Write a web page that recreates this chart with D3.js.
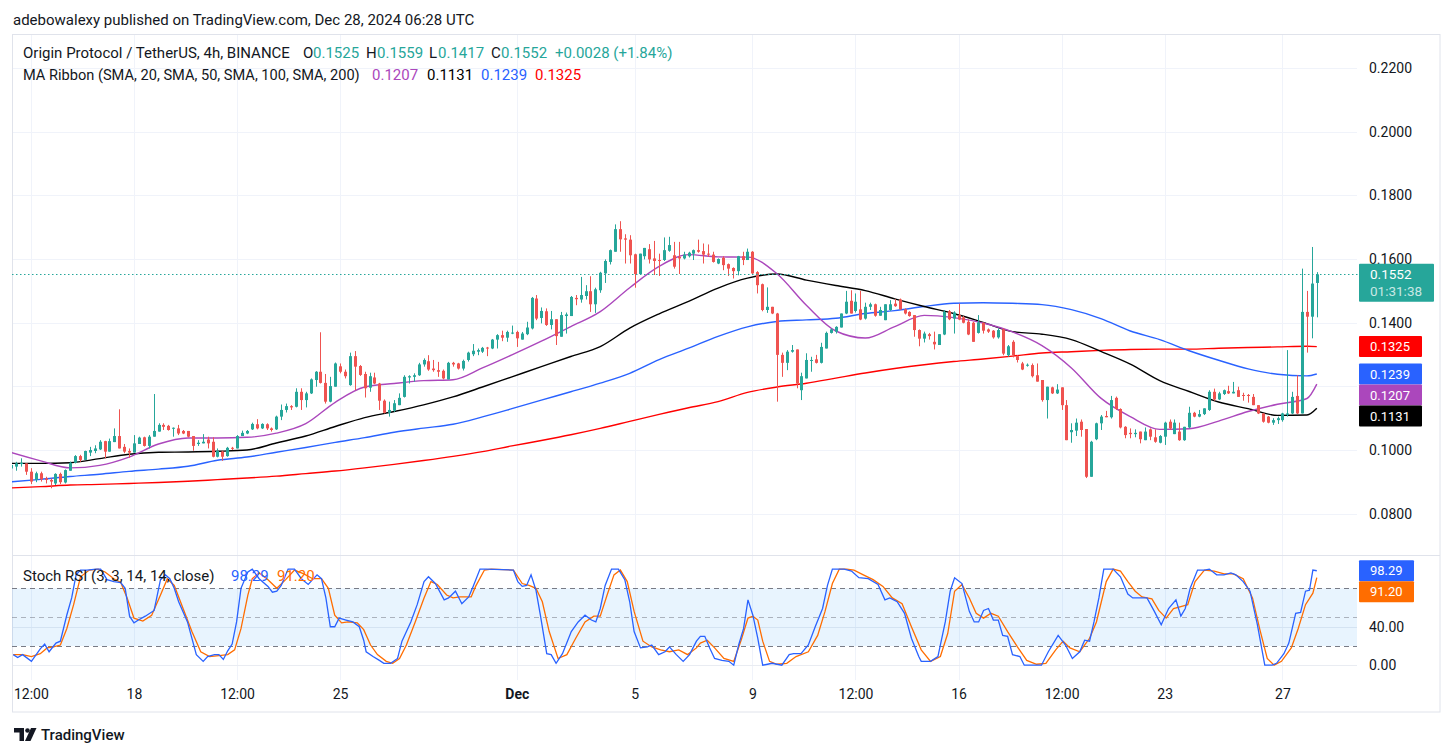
<!DOCTYPE html>
<html><head><meta charset="utf-8">
<script src="https://cdn.jsdelivr.net/npm/d3@7/dist/d3.min.js"></script>
<style>
html,body{margin:0;padding:0;background:#fff;}
svg{display:block;font-family:Roboto,"Liberation Sans",Arial,sans-serif;}
</style></head><body>
<svg id="chart" width="1453" height="756"></svg>
<script>
// ---------------- DATA ----------------
// 4h candles, first candle opens 2024-11-13 20:00 UTC; rows are [open, high, low, close]
const ohlc = [
[.0942,.0958,.0937,.0953],[.0948,.0963,.0935,.0958],[.0956,.0974,.0948,.0960],[.0958,.0958,.0922,.0932],[.0932,.0943,.0893,.0901],
[.0906,.0932,.0899,.0927],[.0927,.0932,.0901,.0908],[.0911,.0916,.0895,.0906],[.0906,.0911,.0880,.0901],[.0895,.0927,.0890,.0925],
[.0925,.0929,.0893,.0899],[.0898,.0939,.0895,.0937],[.0935,.0964,.0935,.0960],[.0960,.0984,.0958,.0981],[.0981,.0985,.0963,.0969],
[.0969,.0998,.0969,.0997],[.0992,.1010,.0981,.1000],[.0997,.1015,.0990,.1005],[.1002,.1031,.1000,.1026],[.1028,.1029,.0974,.0995],
[.0995,.1036,.0995,.1028],[.1025,.1068,.1025,.1044],[.1044,.1128,.1005,.1005],[.1010,.1019,.0990,.0995],[.0997,.1005,.0976,.0992],
[.0992,.1047,.0992,.1021],[.1019,.1042,.1019,.1039],[.1040,.1042,.1011,.1013],[.1013,.1047,.1005,.1042],[.1042,.1176,.1042,.1060],
[.1058,.1084,.1058,.1079],[.1079,.1084,.1063,.1073],[.1076,.1079,.1061,.1063],[.1068,.1071,.1042,.1070],[.1068,.1079,.1047,.1052],
[.1060,.1063,.1050,.1052],[.1060,.1060,.1040,.1042],[.1044,.1044,.0998,.1013],[.1019,.1031,.1013,.1023],[.1021,.1050,.1021,.1026],
[.1033,.1042,.1005,.1021],[.1026,.1040,.0977,.0979],[.0979,.1005,.0977,.0997],[.0995,.0998,.0966,.0979],[.0981,.1010,.0979,.1007],
[.1007,.1010,.1000,.1005],[.1005,.1047,.1005,.1044],[.1044,.1061,.1044,.1054],[.1052,.1063,.1050,.1060],[.1065,.1086,.1063,.1082],
[.1081,.1097,.1065,.1068],[.1068,.1084,.1066,.1082],[.1081,.1084,.1063,.1068],[.1068,.1071,.1058,.1063],[.1065,.1108,.1063,.1105],
[.1105,.1143,.1094,.1126],[.1126,.1146,.1118,.1138],[.1138,.1141,.1126,.1134],[.1136,.1194,.1134,.1183],[.1183,.1194,.1126,.1157],
[.1157,.1183,.1134,.1178],[.1178,.1225,.1176,.1222],[.1220,.1248,.1199,.1246],[.1246,.1370,.1209,.1211],[.1211,.1239,.1146,.1152],
[.1152,.1230,.1150,.1201],[.1199,.1275,.1199,.1272],[.1263,.1272,.1241,.1246],[.1246,.1253,.1225,.1232],[.1204,.1306,.1202,.1295],
[.1295,.1311,.1188,.1262],[.1264,.1267,.1233,.1236],[.1239,.1246,.1165,.1194],[.1196,.1243,.1183,.1232],[.1228,.1243,.1207,.1209],
[.1209,.1211,.1126,.1155],[.1155,.1159,.1115,.1117],[.1117,.1152,.1105,.1126],[.1124,.1157,.1120,.1147],[.1141,.1178,.1141,.1164],
[.1167,.1235,.1165,.1230],[.1228,.1235,.1209,.1232],[.1230,.1241,.1215,.1235],[.1235,.1274,.1233,.1269],[.1269,.1288,.1262,.1283],
[.1279,.1298,.1249,.1253],[.1256,.1283,.1246,.1251],[.1251,.1277,.1230,.1246],[.1249,.1253,.1222,.1225],[.1222,.1277,.1222,.1274],
[.1274,.1277,.1262,.1269],[.1272,.1274,.1253,.1256],[.1256,.1284,.1250,.1280],[.1283,.1309,.1278,.1306],[.1301,.1333,.1295,.1312],
[.1309,.1319,.1298,.1314],[.1309,.1324,.1305,.1321],[.1322,.1324,.1295,.1319],[.1319,.1349,.1317,.1347],[.1347,.1364,.1319,.1361],
[.1361,.1375,.1342,.1353],[.1353,.1375,.1340,.1371],[.1366,.1391,.1364,.1369],[.1371,.1375,.1324,.1351],[.1347,.1371,.1347,.1366],
[.1364,.1403,.1361,.1385],[.1382,.1481,.1379,.1478],[.1476,.1487,.1408,.1413],[.1415,.1448,.1398,.1437],[.1436,.1445,.1390,.1393],
[.1393,.1437,.1379,.1411],[.1411,.1411,.1330,.1358],[.1356,.1434,.1356,.1424],[.1421,.1432,.1366,.1426],[.1421,.1484,.1421,.1481],
[.1478,.1487,.1455,.1474],[.1473,.1544,.1463,.1487],[.1484,.1518,.1473,.1499],[.1499,.1546,.1434,.1458],[.1458,.1510,.1431,.1505],
[.1502,.1560,.1494,.1557],[.1555,.1599,.1525,.1594],[.1591,.1630,.1583,.1628],[.1623,.1709,.1623,.1694],[.1694,.1719,.1623,.1662],
[.1665,.1678,.1586,.1661],[.1661,.1675,.1586,.1612],[.1615,.1617,.1510,.1553],[.1553,.1617,.1553,.1617],[.1609,.1635,.1599,.1635],
[.1631,.1647,.1586,.1599],[.1602,.1657,.1550,.1594],[.1597,.1617,.1547,.1594],[.1597,.1668,.1594,.1628],[.1626,.1670,.1623,.1644],
[.1612,.1654,.1570,.1576],[.1607,.1654,.1553,.1602],[.1602,.1623,.1599,.1614],[.1609,.1623,.1605,.1620],[.1617,.1630,.1597,.1628],
[.1628,.1661,.1620,.1623],[.1625,.1649,.1586,.1614],[.1617,.1646,.1607,.1614],[.1614,.1623,.1589,.1591],[.1586,.1602,.1584,.1600],
[.1604,.1609,.1565,.1581],[.1584,.1586,.1547,.1570],[.1572,.1574,.1539,.1562],[.1562,.1610,.1549,.1609],[.1609,.1623,.1581,.1597],
[.1597,.1633,.1597,.1623],[.1623,.1625,.1553,.1555],[.1559,.1562,.1492,.1518],[.1521,.1523,.1436,.1440],[.1440,.1511,.1431,.1450],
[.1450,.1450,.1427,.1429],[.1429,.1431,.1152,.1299],[.1299,.1306,.1230,.1274],[.1274,.1314,.1251,.1309],[.1309,.1330,.1306,.1314],
[.1316,.1316,.1194,.1209],[.1188,.1243,.1157,.1232],[.1225,.1304,.1225,.1283],[.1280,.1293,.1246,.1283],[.1285,.1299,.1272,.1274],
[.1274,.1337,.1272,.1324],[.1319,.1372,.1319,.1368],[.1368,.1382,.1366,.1379],[.1372,.1389,.1366,.1387],[.1385,.1429,.1385,.1429],
[.1429,.1500,.1427,.1466],[.1469,.1502,.1429,.1429],[.1437,.1492,.1432,.1466],[.1442,.1500,.1408,.1410],[.1413,.1463,.1410,.1450],
[.1450,.1463,.1440,.1458],[.1458,.1460,.1419,.1422],[.1422,.1450,.1422,.1440],[.1408,.1458,.1408,.1458],[.1440,.1471,.1437,.1458],
[.1460,.1474,.1450,.1452],[.1473,.1476,.1440,.1442],[.1442,.1445,.1426,.1429],[.1434,.1436,.1419,.1421],[.1424,.1424,.1356,.1377],
[.1377,.1379,.1326,.1350],[.1350,.1372,.1338,.1366],[.1364,.1368,.1347,.1358],[.1340,.1372,.1316,.1332],[.1330,.1364,.1330,.1364],
[.1363,.1440,.1361,.1434],[.1436,.1440,.1408,.1411],[.1413,.1436,.1366,.1432],[.1424,.1460,.1408,.1410],[.1417,.1421,.1398,.1400],
[.1403,.1410,.1361,.1363],[.1400,.1403,.1340,.1340],[.1368,.1424,.1366,.1401],[.1400,.1400,.1366,.1375],[.1379,.1382,.1368,.1372],
[.1375,.1377,.1350,.1354],[.1354,.1382,.1350,.1377],[.1379,.1382,.1298,.1303],[.1298,.1330,.1293,.1326],[.1340,.1345,.1291,.1298],
[.1295,.1298,.1275,.1283],[.1272,.1277,.1251,.1253],[.1266,.1272,.1262,.1268],[.1267,.1272,.1228,.1232],[.1235,.1272,.1215,.1215],
[.1220,.1220,.1152,.1157],[.1157,.1199,.1099,.1199],[.1197,.1199,.1176,.1178],[.1178,.1207,.1176,.1190],[.1197,.1197,.1126,.1141],
[.1141,.1157,.1031,.1031],[.1056,.1084,.1023,.1063],[.1061,.1099,.1044,.1086],[.1089,.1096,.1042,.1063],[.1066,.1066,.0912,.0916],
[.0916,.1029,.0916,.1026],[.1034,.1086,.1031,.1084],[.1084,.1110,.1063,.1105],[.1107,.1123,.1103,.1103],[.1103,.1170,.1099,.1157],
[.1164,.1168,.1126,.1129],[.1129,.1131,.1068,.1071],[.1073,.1075,.1037,.1047],[.1054,.1068,.1037,.1050],[.1050,.1065,.1040,.1054],
[.1058,.1058,.1021,.1034],[.1031,.1071,.1031,.1058],[.1065,.1068,.1031,.1042],[.1040,.1065,.1023,.1026],[.1023,.1047,.1021,.1044],
[.1042,.1089,.1016,.1086],[.1089,.1096,.1063,.1068],[.1050,.1096,.1050,.1086],[.1058,.1086,.1029,.1031],[.1031,.1073,.1029,.1073],
[.1071,.1136,.1068,.1117],[.1117,.1120,.1103,.1105],[.1105,.1126,.1103,.1113],[.1113,.1131,.1110,.1131],[.1126,.1188,.1123,.1183],
[.1183,.1193,.1155,.1159],[.1159,.1183,.1157,.1178],[.1176,.1190,.1173,.1188],[.1185,.1202,.1176,.1178],[.1178,.1214,.1178,.1183],
[.1188,.1199,.1167,.1167],[.1173,.1180,.1155,.1170],[.1173,.1176,.1149,.1170],[.1167,.1176,.1141,.1141],[.1141,.1141,.1113,.1115],
[.1115,.1115,.1086,.1089],[.1105,.1107,.1084,.1086],[.1086,.1100,.1079,.1094],[.1094,.1105,.1082,.1100],[.1094,.1117,.1089,.1115],
[.1110,.1314,.1105,.1115],[.1115,.1183,.1113,.1167],[.1170,.1235,.1113,.1115],[.1115,.1570,.1115,.1434],[.1434,.1500,.1306,.1419],
[.1419,.1638,.1351,.1523],[.1525,.1559,.1417,.1552]
];

// MA ribbon values read at these candle indices
const maIdx = [0,6,12,18,24,30,36,42,48,54,60,66,72,78,84,90,96,102,108,114,120,126,132,138,144,150,156,162,168,174,180,186,192,198,204,210,216,222,228,234,240,246,252,258,264,266];
const sma20 = [.0992,.0966,.0944,.0952,.0978,.1019,.1038,.1038,.1040,.1053,.1083,.1150,.1198,.1209,.1218,.1221,.1258,.1299,.1342,.1388,.1435,.1510,.1577,.1614,.1607,.1606,.1554,.1455,.1374,.1352,.1388,.1423,.1416,.1399,.1371,.1328,.1258,.1163,.1105,.1065,.1067,.1091,.1121,.1144,.1162,.1207];
const sma50 = [.0958,.0958,.0960,.0973,.0987,.0993,.0994,.0996,.1000,.1022,.1044,.1074,.1102,.1121,.1142,.1167,.1198,.1230,.1262,.1294,.1325,.1383,.1428,.1467,.1509,.1540,.1553,.1534,.1517,.1501,.1475,.1451,.1429,.1401,.1372,.1364,.1347,.1310,.1270,.1218,.1184,.1151,.1130,.1109,.1110,.1131];
const sma100 = [.0900,.0908,.0917,.0924,.0933,.0940,.0949,.0968,.0978,.0993,.1008,.1024,.1039,.1056,.1069,.1081,.1104,.1130,.1157,.1183,.1210,.1241,.1284,.1320,.1357,.1387,.1404,.1409,.1414,.1429,.1438,.1451,.1461,.1463,.1461,.1457,.1441,.1413,.1374,.1347,.1312,.1282,.1255,.1238,.1233,.1239];
const sma200 = [.0881,.0885,.0890,.0892,.0895,.0898,.0902,.0907,.0912,.0918,.0926,.0934,.0944,.0955,.0967,.0980,.0995,.1013,.1030,.1048,.1068,.1090,.1112,.1133,.1152,.1181,.1198,.1210,.1226,.1242,.1256,.1268,.1278,.1286,.1295,.1305,.1309,.1313,.1316,.1317,.1317,.1320,.1322,.1324,.1326,.1325];

// Stoch RSI: [candle index, value]
const stochK = [[0.4,11],[1.3,8],[2.3,11],[4.1,4],[5.9,17],[6.8,22],[7.7,14],[9.1,23],[10,25],[11.3,52],[12.3,70],[13.2,94],[14.1,99],[15.4,99],[17.3,100],[18.2,100],[19.5,89],[20.9,87],[22.3,86],[23.2,80],[24.1,51],[25,44],[25.9,47],[27.3,51],[29.1,57],[30.4,89],[31.4,94],[32.3,90],[33.2,80],[34.1,66],[35.9,45],[37.7,11],[39.1,4],[40,9],[41.4,11],[42.3,11],[43.2,6],[44.1,15],[45,22],[45.9,45],[46.8,80],[48.2,97],[49.1,100],[50.5,90],[52.3,82],[53.2,76],[54.1,77],[55,83],[56.4,100],[57.7,100],[59.1,90],[60.5,84],[61.4,89],[62.3,94],[63.2,90],[64.1,70],[65,40],[65.9,40],[66.8,49],[68.2,47],[69.6,45],[70.9,40],[71.8,26],[72.3,14],[73.7,9],[75,5],[75.9,2],[77.3,2],[78.7,7],[79.6,25],[81.4,45],[82.7,63],[84.1,87],[85,92],[86.4,85],[88.2,68],[89.1,70],[90.5,77],[91.8,64],[93.2,71],[94.1,82],[95.5,100],[96.8,100],[102.3,99],[103.2,87],[104.1,82],[105,83],[105.9,94],[106.9,78],[107.8,52],[109.1,12],[110,11],[111,2],[112.3,12],[114.1,35],[115.5,45],[116.9,52],[118.2,47],[119.1,45],[120,59],[121,83],[122.3,100],[123.7,100],[125,89],[126,66],[126.9,35],[128.2,18],[129.6,19],[130.5,21],[131.9,11],[133.2,14],[134.1,19],[135.5,11],[136.9,4],[138.2,11],[139.6,25],[140.4,30],[141.3,30],[142.3,18],[143.3,7],[144.8,5],[146.2,4],[147.2,0],[148.2,21],[149.2,38],[150.1,68],[151.1,52],[152.1,28],[153.1,0],[154.1,1],[155,2],[157,0],[158.5,11],[159.4,12],[160.9,12],[162.4,21],[163.8,40],[165.3,59],[166.3,83],[167.3,100],[169.7,100],[171.2,98],[172.7,91],[174.6,90],[176.6,84],[178,68],[179,70],[180.5,66],[182,54],[183.4,28],[184.9,9],[185.4,4],[187.3,4],[188.8,9],[190.3,45],[191.3,77],[192.2,91],[193.7,85],[195.2,56],[196.2,45],[197.1,45],[198.1,57],[199.1,59],[200.1,47],[201.1,47],[202,31],[203,30],[204,11],[205.5,9],[206.4,0],[207.9,0],[209.9,0],[211.3,14],[213.3,31],[214.8,21],[216.2,7],[217.7,14],[218.7,26],[219.7,25],[220.6,45],[221.6,70],[222.6,100],[224.5,100],[226,92],[227.5,74],[228.5,70],[229.9,70],[231.4,70],[232.9,56],[234.3,42],[235.8,59],[237.3,68],[238.3,51],[239.2,59],[240.2,80],[241.7,99],[243.1,99],[244.1,100],[245.6,94],[247.1,94],[248.5,96],[249.5,94],[251,87],[252.4,77],[253.9,42],[255.4,0],[256.9,0],[257.8,2],[259.3,12],[260.3,23],[261.7,54],[262.7,55],[263.7,77],[264.5,78],[265.2,99],[266,98.29]];
const stochD = [[0.4,11],[2.3,11],[4.1,9],[5.9,12],[7.3,18],[8.6,19],[10,21],[11.3,38],[12.7,63],[14.1,92],[15.9,99],[17.7,100],[19.1,97],[20.9,90],[22.3,86],[23.6,70],[25,49],[26.8,46],[28.6,52],[30.4,73],[31.8,90],[33.2,83],[35,59],[36.8,35],[38.6,14],[40.4,9],[42.3,10],[44.1,11],[45.5,16],[46.8,38],[48.2,73],[49.1,90],[50.5,96],[52.3,89],[54.1,80],[55.9,89],[57.7,99],[59.6,95],[61.4,90],[63.2,90],[64.6,80],[65.9,52],[67.3,44],[68.6,45],[70.5,44],[71.8,37],[73.2,21],[74.6,11],[76.4,4],[77.7,2],[79.1,7],[80.5,21],[82.3,45],[84.1,70],[85.5,87],[86.8,84],[88.7,73],[90,70],[91.4,71],[93.7,71],[94.6,82],[96.4,99],[97.8,100],[102.3,99],[104.1,85],[105.5,83],[106.9,80],[108.2,66],[109.6,35],[111.4,7],[113.2,11],[115,28],[116.9,45],[118.7,51],[120,51],[121.4,73],[122.8,94],[124.1,99],[125.5,87],[126.9,56],[128.7,25],[130.5,19],[132.3,16],[134.1,14],[136,16],[137.8,11],[139.6,18],[140.4,23],[141.8,26],[143.3,18],[145.2,7],[147.2,4],[148.7,26],[150.1,49],[151.1,51],[152.1,47],[153.1,25],[154.5,4],[156,1],[158,2],[159.9,9],[162.4,14],[164.3,31],[165.8,56],[167.3,85],[168.7,100],[170.2,100],[171.7,99],[173.6,94],[175.6,89],[177.6,82],[179.5,70],[181.5,64],[183.4,40],[185.4,16],[187.3,4],[189.3,9],[190.8,33],[192.2,77],[193.7,84],[195.2,70],[196.6,54],[198.1,49],[199.6,54],[201.1,51],[203,35],[205,19],[206.9,5],[208.9,1],[210.8,2],[212.8,16],[214.3,25],[215.7,18],[217.7,14],[219.7,28],[221.1,45],[223.1,87],[224.5,100],[226,98],[227.5,87],[229,77],[230.4,71],[232.4,69],[233.8,57],[235.3,49],[236.8,59],[238.3,61],[239.7,63],[241.2,87],[243.1,99],[245.1,98],[247.1,95],[249,95],[251,90],[252.9,70],[254.4,37],[255.9,7],[257.3,0],[258.8,4],[260.8,18],[262.2,38],[263.7,63],[265.2,75],[266,91.2]];

const priceTicks = [0.08,0.10,0.12,0.14,0.16,0.18,0.20,0.22];
const priceLabelTicks = [0.08,0.10,0.14,0.16,0.18,0.20,0.22]; // 0.1200 label is hidden behind the MA boxes
const stochTicks = [0,40];
const timeTicks = ["2024-11-14T12:00Z","2024-11-18T00:00Z","2024-11-21T12:00Z","2024-11-25T00:00Z","2024-12-01T00:00Z","2024-12-05T00:00Z","2024-12-09T00:00Z","2024-12-12T12:00Z","2024-12-16T00:00Z","2024-12-19T12:00Z","2024-12-23T00:00Z","2024-12-27T00:00Z"];
const timeLabels = ["12:00","18","12:00","25","Dec","5","9","12:00","16","12:00","23","27"];
const lastValues = {o:0.1525,h:0.1559,l:0.1417,c:0.1552,chg:"+0.0028 (+1.84%)"};
const maLast = [0.1207,0.1131,0.1239,0.1325];
const stochLast = [98.29,91.20];

// ---------------- DRAW ----------------
const W = 1453, H = 756;
const FONT = 'Roboto,"Liberation Sans",Arial,sans-serif';
const T0 = Date.UTC(2024,10,13,20,0), STEP = 4*3600*1000;
const tOf = i => new Date(T0 + i*STEP);
const GREEN = "#26a69a", RED = "#ef5350";
const C20 = "#ab47bc", C50 = "#000000", C100 = "#2962ff", C200 = "#ff0000";
const CK = "#2962ff", CD = "#ff6d00";
const GRID = "#f0f3fa", TXT = "#131722";

const x = d3.scaleUtc().domain([tOf(0), tOf(266)]).range([11.3, 1316.8]);
const y = d3.scaleLinear().domain([0.08, 0.22]).range([513.7, 68.1]);
const ys = d3.scaleLinear().domain([0, 100]).range([665.2, 569.1]);

const svg = d3.select("#chart");
svg.append("rect").attr("width", W).attr("height", H).attr("fill", "#fff");

const defs = svg.append("defs");
defs.append("clipPath").attr("id","clipMain").append("rect").attr("x",12).attr("y",35).attr("width",1345).attr("height",519);
defs.append("clipPath").attr("id","clipStoch").append("rect").attr("x",12).attr("y",556).attr("width",1345).attr("height",124);

// header
svg.append("text").attr("x",13).attr("y",25).attr("font-size",15).attr("fill",TXT)
  .text("adebowalexy published on TradingView.com, Dec 28, 2024 06:28 UTC");

// grid: vertical
const tickDates = timeTicks.map(d => new Date(d));
svg.append("g").selectAll("line").data(tickDates).join("line")
  .attr("x1", d => Math.round(x(d))+0.5).attr("x2", d => Math.round(x(d))+0.5)
  .attr("y1", 35).attr("y2", 680).attr("stroke", GRID).attr("stroke-width",1);
// grid: price
svg.append("g").selectAll("line").data(priceTicks).join("line")
  .attr("x1", 12).attr("x2", 1357)
  .attr("y1", d => Math.round(y(d))+0.5).attr("y2", d => Math.round(y(d))+0.5)
  .attr("stroke", GRID);
// grid: stoch
svg.append("g").selectAll("line").data(stochTicks).join("line")
  .attr("x1", 12).attr("x2", 1357)
  .attr("y1", d => Math.round(ys(d))+0.5).attr("y2", d => Math.round(ys(d))+0.5)
  .attr("stroke", "#e9ecf2");

// frame + pane separator
svg.append("rect").attr("x",12.5).attr("y",34.5).attr("width",1427.5).attr("height",677.5)
  .attr("fill","none").attr("stroke","#e0e3eb");
svg.append("line").attr("x1",12).attr("x2",1440).attr("y1",555.5).attr("y2",555.5).attr("stroke","#e0e3eb");

// ---- main pane ----
const main = svg.append("g").attr("clip-path","url(#clipMain)");

const maLine = d3.line().x((d,i) => x(tOf(maIdx[i]))).y(d => y(d)).curve(d3.curveMonotoneX);
[[sma200,C200],[sma100,C100],[sma50,C50],[sma20,C20]].forEach(([arr,col]) => {
  main.append("path").attr("d", maLine(arr)).attr("fill","none").attr("stroke",col).attr("stroke-width",1.4);
});

const cg = main.append("g");
ohlc.forEach((r, i) => {
  const [o,h,l,c] = r;
  const cx = x(tOf(i));
  const col = c >= o ? GREEN : RED;
  cg.append("line").attr("x1", Math.round(cx)+0.5).attr("x2", Math.round(cx)+0.5)
    .attr("y1", y(h)).attr("y2", y(l)).attr("stroke", col).attr("stroke-width",1);
  const top = y(Math.max(o,c)), bot = y(Math.min(o,c));
  cg.append("rect").attr("x", Math.round(cx)-1).attr("width", 3)
    .attr("y", top).attr("height", Math.max(1, bot-top)).attr("fill", col);
});

svg.append("line").attr("x1",12).attr("x2",1359)
  .attr("y1", Math.round(y(lastValues.c))+0.5).attr("y2", Math.round(y(lastValues.c))+0.5)
  .attr("stroke", GREEN).attr("stroke-dasharray","1.5,2.5").attr("stroke-width",1);

// ---- stoch pane ----
svg.append("rect").attr("x",12).attr("width",1345).attr("y",ys(80)).attr("height",ys(20)-ys(80))
  .attr("fill","rgba(33,150,243,0.1)");
[[80,"#787b86"],[50,"rgba(120,123,134,0.55)"],[20,"#787b86"]].forEach(([v,col]) => {
  svg.append("line").attr("x1",12).attr("x2",1357).attr("y1",Math.round(ys(v))+0.5).attr("y2",Math.round(ys(v))+0.5)
    .attr("stroke",col).attr("stroke-dasharray","5,4");
});
const st = svg.append("g").attr("clip-path","url(#clipStoch)");
const sLine = d3.line().x(d => x(new Date(T0 + d[0]*STEP))).y(d => ys(d[1]));
st.append("path").attr("d", sLine(stochD)).attr("fill","none").attr("stroke",CD).attr("stroke-width",1.3);
st.append("path").attr("d", sLine(stochK)).attr("fill","none").attr("stroke",CK).attr("stroke-width",1.3);

// ---- axes ----
const gx = svg.append("g").attr("transform","translate(0,689)")
  .call(d3.axisBottom(x).tickValues(tickDates).tickFormat((d,i) => timeLabels[i]).tickSize(0).tickPadding(0));
gx.select(".domain").remove();
gx.attr("font-size",14).attr("font-family",FONT);
gx.selectAll("text").attr("fill",TXT).attr("font-weight",(d,i) => timeLabels[i]==="Dec" ? 700 : 400);

const gy = svg.append("g").attr("transform","translate(1369,0)")
  .call(d3.axisRight(y).tickValues(priceLabelTicks).tickFormat(d3.format(".4f")).tickSize(0).tickPadding(0));
gy.select(".domain").remove();
gy.attr("font-size",14).attr("font-family",FONT);
gy.selectAll("text").attr("fill",TXT);

const gs = svg.append("g").attr("transform","translate(1369,0)")
  .call(d3.axisRight(ys).tickValues(stochTicks).tickFormat(d3.format(".2f")).tickSize(0).tickPadding(0));
gs.select(".domain").remove();
gs.attr("font-size",14).attr("font-family",FONT);
gs.selectAll("text").attr("fill",TXT);

// ---- price-scale labels ----
function stack(items, h) {
  items.sort((a,b) => a.cy - b.cy);
  for (let k = 1; k < items.length; k++) {
    if (items[k].cy < items[k-1].cy + h) items[k].cy = items[k-1].cy + h;
  }
  return items;
}
const maBoxes = stack([
  {v:maLast[0], col:C20, cy:y(maLast[0])},
  {v:maLast[1], col:C50, cy:y(maLast[1])},
  {v:maLast[2], col:C100, cy:y(maLast[2])},
  {v:maLast[3], col:C200, cy:y(maLast[3])}
], 21);
maBoxes.forEach(b => {
  svg.append("rect").attr("x",1359).attr("y",b.cy-10.5).attr("width",63).attr("height",21).attr("fill",b.col).attr("rx",1);
  svg.append("text").attr("x",1370).attr("y",b.cy).attr("dy","0.35em").attr("font-size",13).attr("fill","#fff").text(d3.format(".4f")(b.v));
});
const lpY = y(lastValues.c);
svg.append("rect").attr("x",1359).attr("y",lpY-10.5).attr("width",75).attr("height",38).attr("fill",GREEN).attr("rx",1);
svg.append("text").attr("x",1370).attr("y",lpY).attr("dy","0.35em").attr("font-size",13.5).attr("fill","#fff").text(d3.format(".4f")(lastValues.c));
svg.append("text").attr("x",1370).attr("y",lpY+17).attr("dy","0.35em").attr("font-size",13.5).attr("fill","rgba(255,255,255,0.75)").text("01:31:38");

const stBoxes = stack([
  {v:stochLast[0], col:CK, cy:ys(stochLast[0])},
  {v:stochLast[1], col:CD, cy:ys(stochLast[1])}
], 21);
stBoxes.forEach(b => {
  svg.append("rect").attr("x",1359).attr("y",b.cy-10.5).attr("width",55).attr("height",21).attr("fill",b.col).attr("rx",1);
  svg.append("text").attr("x",1370).attr("y",b.cy).attr("dy","0.35em").attr("font-size",13).attr("fill","#fff").text(d3.format(".2f")(b.v));
});

// ---- legends ----
const f4 = d3.format(".4f");
function txt(xp, yp, s, col, size) {
  return svg.append("text").attr("x",xp).attr("y",yp).attr("font-size",size||15).attr("fill",col).text(s);
}
txt(23, 58, "Origin Protocol / TetherUS, 4h, BINANCE", TXT);
txt(303, 58, "O", TXT); txt(313, 58, f4(lastValues.o), GREEN);
txt(366, 58, "H", TXT); txt(377, 58, f4(lastValues.h), GREEN);
txt(429, 58, "L", TXT); txt(438, 58, f4(lastValues.l), GREEN);
txt(491, 58, "C", TXT); txt(501, 58, f4(lastValues.c), GREEN);
txt(555, 58, lastValues.chg, GREEN);

txt(23, 80, "MA Ribbon (SMA, 20, SMA, 50, SMA, 100, SMA, 200)", TXT, 14.6);
txt(372, 80, f4(maLast[0]), C20);
txt(427, 80, f4(maLast[1]), C50);
txt(481, 80, f4(maLast[2]), C100);
txt(535, 80, f4(maLast[3]), C200);

txt(23, 581, "Stoch RSI (3, 3, 14, 14, close)", TXT);
txt(231, 581, d3.format(".2f")(stochLast[0]), CK);
txt(277, 581, d3.format(".2f")(stochLast[1]), CD);

// ---- footer logo ----
const lg = svg.append("g").attr("fill","#131722");
lg.append("path").attr("d","M14 728 h10 v13 h-4.5 v-8.5 h-5.5 z");
lg.append("circle").attr("cx",27.5).attr("cy",730.5).attr("r",2.3);
lg.append("path").attr("d","M31 728 h5.5 l-6 13 h-5.5 z");
svg.append("text").attr("x",41).attr("y",740).attr("font-size",15).attr("font-weight",500).attr("fill","#131722").text("TradingView");
</script></body></html>
